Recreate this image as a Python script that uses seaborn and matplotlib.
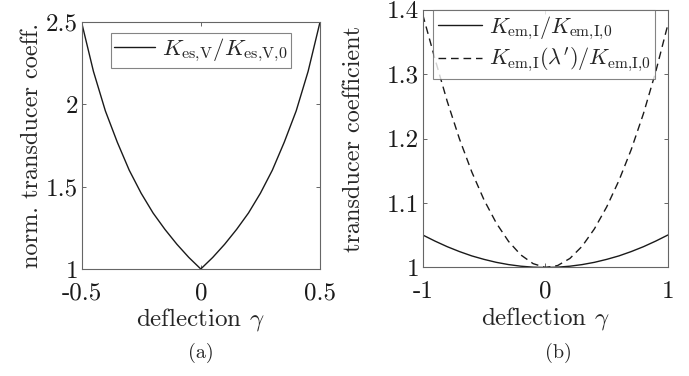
import numpy as np
import pandas as pd
import matplotlib
matplotlib.use("Agg")
import matplotlib.pyplot as plt
import seaborn as sns

# (a) normalised electrostatic transducer coefficient
gamma_a = [-0.5, -0.45, -0.4, -0.35, -0.3, -0.25, -0.2, -0.15, -0.1, -0.05, 0.0,
           0.05, 0.1, 0.15, 0.2, 0.25, 0.3, 0.35, 0.4, 0.45, 0.5]
k_es = [2.50, 2.20, 1.96, 1.77, 1.60, 1.46, 1.34, 1.24, 1.15, 1.07, 1.00,
        1.07, 1.15, 1.24, 1.34, 1.46, 1.60, 1.77, 1.96, 2.20, 2.50]

# (b) electromagnetic transducer coefficient
gamma_b = [-1.0, -0.9, -0.8, -0.7, -0.6, -0.5, -0.4, -0.3, -0.2, -0.1, 0.0,
           0.1, 0.2, 0.3, 0.4, 0.5, 0.6, 0.7, 0.8, 0.9, 1.0]
k_em = [1.0505, 1.041, 1.0323, 1.0247, 1.018, 1.0126, 1.008, 1.0045, 1.002, 1.0005, 1.0,
        1.0005, 1.002, 1.0045, 1.008, 1.0126, 1.018, 1.0247, 1.0323, 1.041, 1.0505]
k_em_lam = [1.393, 1.324, 1.258, 1.1995, 1.1485, 1.105, 1.069, 1.0405, 1.0195, 1.006, 1.0,
            1.003, 1.014, 1.033, 1.060, 1.094, 1.135, 1.183, 1.239, 1.304, 1.378]

sns.set_theme(style="white")
plt.rcParams["font.family"] = "serif"
plt.rcParams["font.serif"] = ["cmr10"]
plt.rcParams["mathtext.fontset"] = "cm"
plt.rcParams["axes.unicode_minus"] = False

fig = plt.figure(figsize=(6.89, 3.76), dpi=100)
ax1 = fig.add_axes([0.1183, 0.2846, 0.3462, 0.657])
ax2 = fig.add_axes([0.6135, 0.2886, 0.356, 0.685])

df_a = pd.DataFrame({"g": gamma_a, "k": k_es})
sns.lineplot(data=df_a, x="g", y="k", ax=ax1, color="k", lw=1,
             label=r"$K_{\mathrm{es{,}V}}/K_{\mathrm{es{,}V{,}0}}$")

df_b = pd.DataFrame({"g": gamma_b, "k": k_em, "kl": k_em_lam})
sns.lineplot(data=df_b, x="g", y="k", ax=ax2, color="k", lw=1,
             label=r"$K_{\mathrm{em{,}I}}/K_{\mathrm{em{,}I{,}0}}$")
sns.lineplot(data=df_b, x="g", y="kl", ax=ax2, color="k", lw=1, linestyle="--",
             label=r"$K_{\mathrm{em{,}I}}(\lambda')/K_{\mathrm{em{,}I{,}0}}$")
ax2.lines[-1].set_dashes([5.5, 3.5])

ax1.set_xlim(-0.5, 0.5)
ax1.set_ylim(1, 2.5)
ax1.set_xticks([-0.5, 0, 0.5])
ax1.set_xticklabels(["-0.5", "0", "0.5"])
ax1.set_yticks([1, 1.5, 2, 2.5])
ax1.set_yticklabels(["1", "1.5", "2", "2.5"])
ax1.set_ylabel("norm. transducer coeff.", fontsize=17.5)

ax2.set_xlim(-1, 1)
ax2.set_ylim(1, 1.4)
ax2.set_xticks([-1, 0, 1])
ax2.set_xticklabels(["-1", "0", "1"])
ax2.set_yticks([1, 1.1, 1.2, 1.3, 1.4])
ax2.set_yticklabels(["1", "1.1", "1.2", "1.3", "1.4"])
ax2.set_ylabel("transducer coefficient", fontsize=17.5)

for ax in (ax1, ax2):
    ax.set_xlabel(r"deflection $\gamma$", fontsize=18)
    ax.tick_params(direction="in", length=3, width=0.6, color="0.3",
                   labelsize=18, top=True, right=True,
                   bottom=True, left=True, labelcolor="k")
    ax.tick_params(axis="x", pad=9.5)
    ax.tick_params(axis="y", pad=2.5)
    for s in ax.spines.values():
        s.set_color("0.4")
        s.set_linewidth(0.8)

ax1.yaxis.set_label_coords(-0.16, 0.5)
ax2.yaxis.set_label_coords(-0.235, 0.5)
ax1.xaxis.set_label_coords(0.5, -0.15)
ax2.xaxis.set_label_coords(0.5, -0.145)

leg1 = ax1.legend(loc="upper center", bbox_to_anchor=(0.5, 0.954), fontsize=16.5,
                  frameon=True, fancybox=False, edgecolor="0.4", borderaxespad=0,
                  borderpad=0.15, handlelength=1.8, handletextpad=0.3)
leg2 = ax2.legend(loc="upper right", bbox_to_anchor=(0.947, 1.0), fontsize=16,
                  frameon=True, fancybox=False, edgecolor="0.4", borderaxespad=0,
                  borderpad=0.2, labelspacing=0.2, handlelength=2.0, handletextpad=0.3)
for leg in (leg1, leg2):
    leg.get_frame().set_linewidth(0.8)

fig.text(0.291, 0.061, "(a)", ha="center", va="center", fontsize=14.5)
fig.text(0.811, 0.061, "(b)", ha="center", va="center", fontsize=14.5)

fig.savefig("out.png", dpi=100)
